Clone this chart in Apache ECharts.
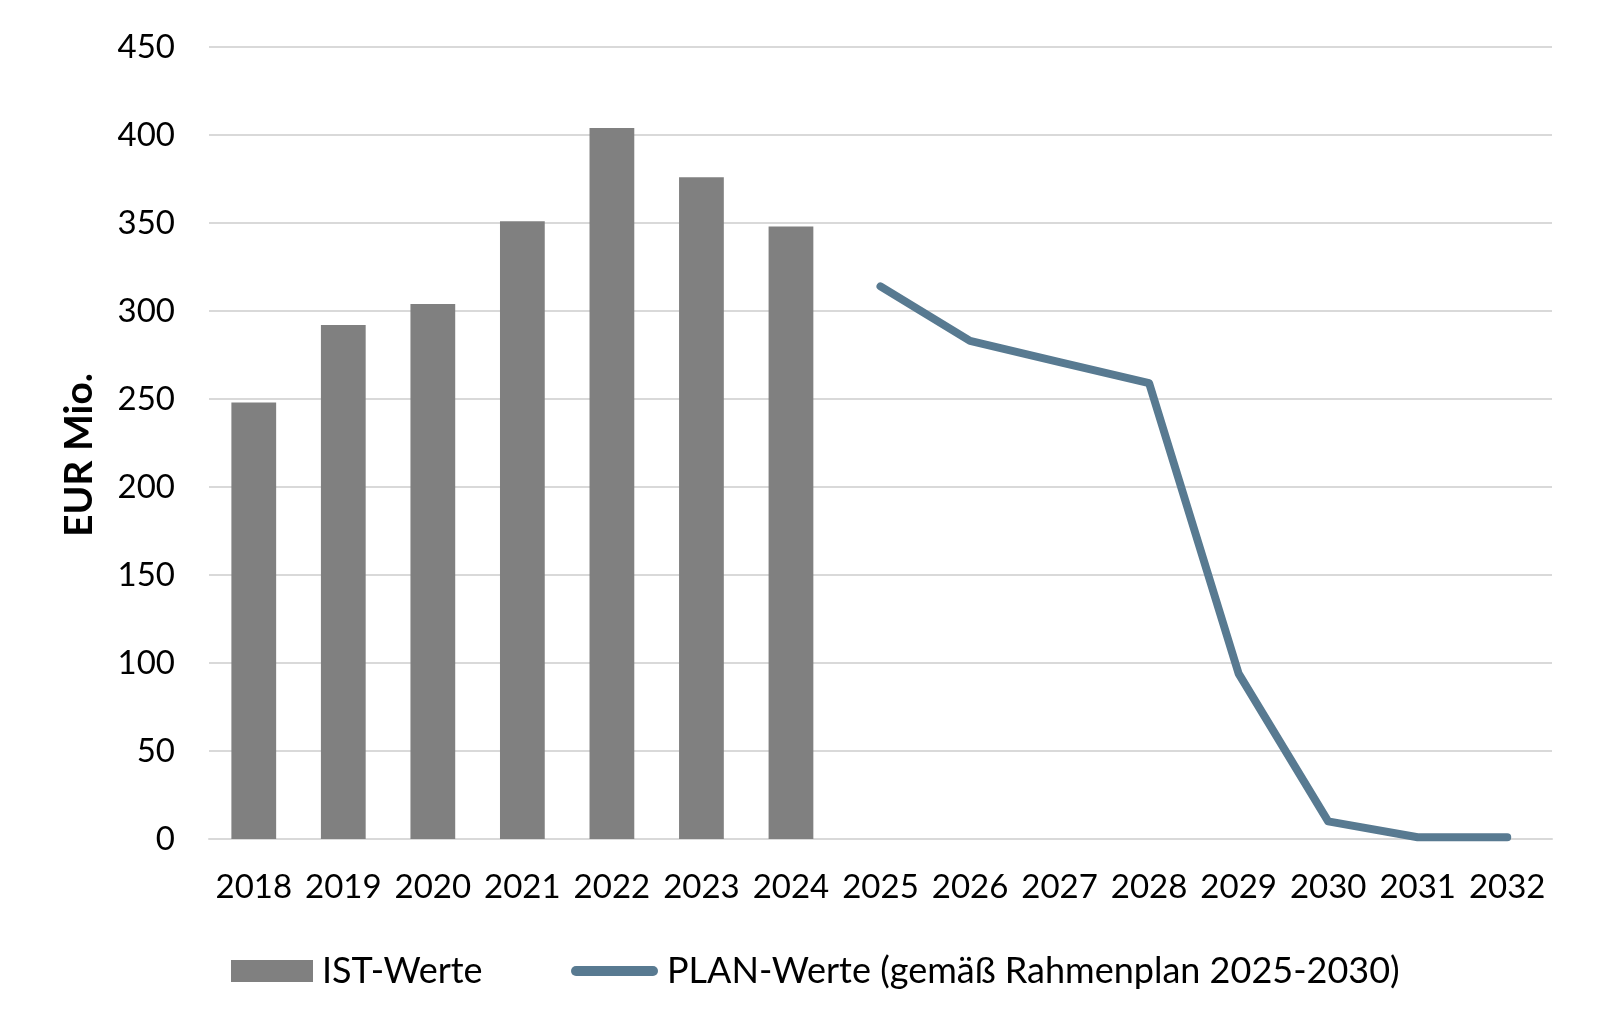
<!DOCTYPE html>
<html>
<head>
<meta charset="utf-8">
<script src="https://cdn.jsdelivr.net/npm/echarts@6/dist/echarts.min.js"></script>
<style>html,body{margin:0;padding:0;background:#fff;}#c{width:1600px;height:1032px;}</style>
</head>
<body>
<div id="c"></div>
<script>
var categories = ['2018','2019','2020','2021','2022','2023','2024','2025','2026','2027','2028','2029','2030','2031','2032'];
var istValues = [248, 292, 304, 351, 404, 376, 348, null, null, null, null, null, null, null, null];
var planValues = [null, null, null, null, null, null, null, 314, 283, 271, 259, 94, 10, 1, 1];
var yTicks = [0, 50, 100, 150, 200, 250, 300, 350, 400, 450];
var istName = 'IST-Werte';
var planName = 'PLAN-Werte (gemäß Rahmenplan 2025-2030)';

var FONT = 'Lato';
var LINE_COLOR = '#587a91';
var chart = echarts.init(document.getElementById('c'));
var legendText = { fontFamily: FONT, fontSize: 36, color: '#000', padding: [0,0,0,4] };
chart.setOption({
  backgroundColor: '#ffffff',
  animation: false,
  grid: { left: 209, right: 48, top: 47, bottom: 193, containLabel: false },
  legend: [
    {
      left: 226, top: 948,
      itemWidth: 82, itemHeight: 22,
      textStyle: legendText,
      data: [{ name: istName, icon: 'rect' }]
    },
    {
      left: 566, top: 948,
      itemWidth: 87, itemHeight: 22,
      symbolKeepAspect: true,
      textStyle: legendText,
      data: [{ name: planName, icon: 'path://M5,0 L82,0 A5,5 0 0 1 82,10 L5,10 A5,5 0 0 1 5,0 Z', itemStyle: { color: LINE_COLOR } }]
    }
  ],
  xAxis: {
    type: 'category',
    data: categories,
    axisLine: { lineStyle: { color: '#d9d9d9', width: 2 } },
    axisTick: { show: false },
    axisLabel: { fontFamily: FONT, fontSize: 33, color: '#000', margin: 32, interval: 0 }
  },
  yAxis: {
    type: 'value',
    min: yTicks[0], max: yTicks[yTicks.length-1], interval: 50,
    name: 'EUR Mio.',
    nameLocation: 'middle',
    nameGap: 110,
    nameTextStyle: { fontFamily: FONT, fontSize: 39, fontWeight: 'bold', color: '#000', padding: [0, 24, 0, 0] },
    axisLine: { show: false },
    axisTick: { show: false },
    axisLabel: { fontFamily: FONT, fontSize: 33, color: '#000', margin: 34 },
    splitLine: { lineStyle: { color: '#d9d9d9', width: 2 } }
  },
  series: [
    {
      name: istName, type: 'bar', data: istValues,
      barWidth: '50%',
      itemStyle: { color: '#808080' }
    },
    {
      name: planName, type: 'line', data: planValues,
      symbol: 'none', showSymbol: false,
      lineStyle: { color: LINE_COLOR, width: 8, cap: 'round', join: 'round' },
      itemStyle: { color: LINE_COLOR }
    }
  ]
});
</script>
</body>
</html>
